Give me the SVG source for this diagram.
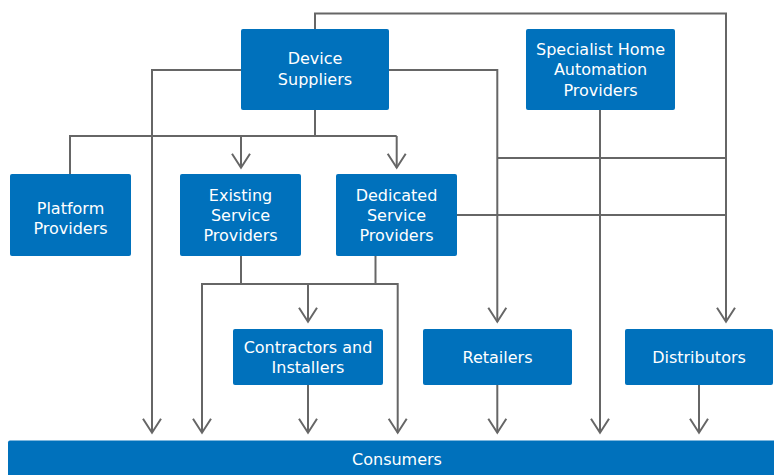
<svg xmlns="http://www.w3.org/2000/svg" width="774" height="475" viewBox="0 0 774 475">
  <defs>
    <marker id="arrow" markerUnits="userSpaceOnUse" markerWidth="20" markerHeight="20" viewBox="-16 -10 18 20" refX="0" refY="0" orient="auto" overflow="visible">
      <path d="M-14,-9 L0,0 L-14,9" fill="none" stroke="#666666" stroke-width="2"/>
    </marker>
    <style>
      .box { fill: #0071bc; }
      .label { fill: #ffffff; font-family: "DejaVu Sans", "Liberation Sans", sans-serif; font-size: 16px; text-anchor: middle; }
      .wire { fill: none; stroke: #666666; stroke-width: 2; }
      .arr { marker-end: url(#arrow); }
    </style>
  </defs>
  <rect width="774" height="475" fill="#ffffff"/>

  <!-- connectors -->
  <g id="connectors">
    <!-- device suppliers: top loop to distributors -->
    <polyline class="wire arr" points="315,29 315,13.5 726,13.5 726,321.7"/>
    <!-- device suppliers: left branch to consumers -->
    <polyline class="wire arr" points="241,70 152,70 152,432.7"/>
    <!-- device suppliers: right branch to retailers -->
    <polyline class="wire arr" points="389,70 497.3,70 497.3,321.7"/>
    <!-- device suppliers: down to the service tier -->
    <polyline class="wire" points="315,110 315,136"/>
    <polyline class="wire" points="70,174 70,136 396.7,136"/>
    <line class="wire arr" x1="241" y1="136" x2="241" y2="167.7"/>
    <line class="wire arr" x1="396.7" y1="136" x2="396.7" y2="167.7"/>
    <!-- cross links on the right -->
    <line class="wire" x1="497.3" y1="158" x2="726" y2="158"/>
    <line class="wire" x1="457" y1="215" x2="726" y2="215"/>
    <!-- specialist home automation to consumers -->
    <line class="wire arr" x1="600" y1="110" x2="600" y2="432.7"/>
    <!-- service providers down -->
    <line class="wire" x1="241" y1="256" x2="241" y2="284"/>
    <line class="wire" x1="375.5" y1="256" x2="375.5" y2="284"/>
    <polyline class="wire arr" points="308,284 202,284 202,432.7"/>
    <polyline class="wire arr" points="308,284 397.7,284 397.7,432.7"/>
    <line class="wire arr" x1="308" y1="284" x2="308" y2="321.7"/>
    <!-- second tier to consumers -->
    <line class="wire arr" x1="308" y1="385" x2="308" y2="432.7"/>
    <line class="wire arr" x1="497.3" y1="385" x2="497.3" y2="432.7"/>
    <line class="wire arr" x1="699" y1="385" x2="699" y2="432.7"/>
  </g>

  <g id="device-suppliers">
    <rect class="box" x="241" y="29" width="148" height="81" rx="2"/>
    <text class="label" x="315" y="63.5">Device</text>
    <text class="label" x="315" y="84.5">Suppliers</text>
  </g>

  <g id="specialist-home-automation">
    <rect class="box" x="526" y="29" width="149" height="81" rx="2"/>
    <text class="label" x="600.5" y="54.8">Specialist Home</text>
    <text class="label" x="600.5" y="75.3">Automation</text>
    <text class="label" x="600.5" y="95.8">Providers</text>
  </g>

  <g id="platform-providers">
    <rect class="box" x="10" y="174" width="121" height="82" rx="2"/>
    <text class="label" x="70.5" y="213.5">Platform</text>
    <text class="label" x="70.5" y="233.5">Providers</text>
  </g>

  <g id="existing-service-providers">
    <rect class="box" x="180" y="174" width="121" height="82" rx="2"/>
    <text class="label" x="240.5" y="201">Existing</text>
    <text class="label" x="240.5" y="221">Service</text>
    <text class="label" x="240.5" y="241">Providers</text>
  </g>

  <g id="dedicated-service-providers">
    <rect class="box" x="336" y="174" width="121" height="82" rx="2"/>
    <text class="label" x="396.5" y="201">Dedicated</text>
    <text class="label" x="396.5" y="221">Service</text>
    <text class="label" x="396.5" y="241">Providers</text>
  </g>

  <g id="contractors-installers">
    <rect class="box" x="233" y="329" width="150" height="56" rx="2"/>
    <text class="label" x="308" y="352.5">Contractors and</text>
    <text class="label" x="308" y="372.7">Installers</text>
  </g>

  <g id="retailers">
    <rect class="box" x="423" y="329" width="149" height="56" rx="2"/>
    <text class="label" x="497.5" y="362.5">Retailers</text>
  </g>

  <g id="distributors">
    <rect class="box" x="625" y="329" width="148" height="56" rx="2"/>
    <text class="label" x="699" y="362.5">Distributors</text>
  </g>

  <g id="consumers">
    <rect class="box" x="8" y="440.5" width="770" height="40" rx="2"/>
    <text class="label" x="397" y="464.5">Consumers</text>
  </g>
</svg>
